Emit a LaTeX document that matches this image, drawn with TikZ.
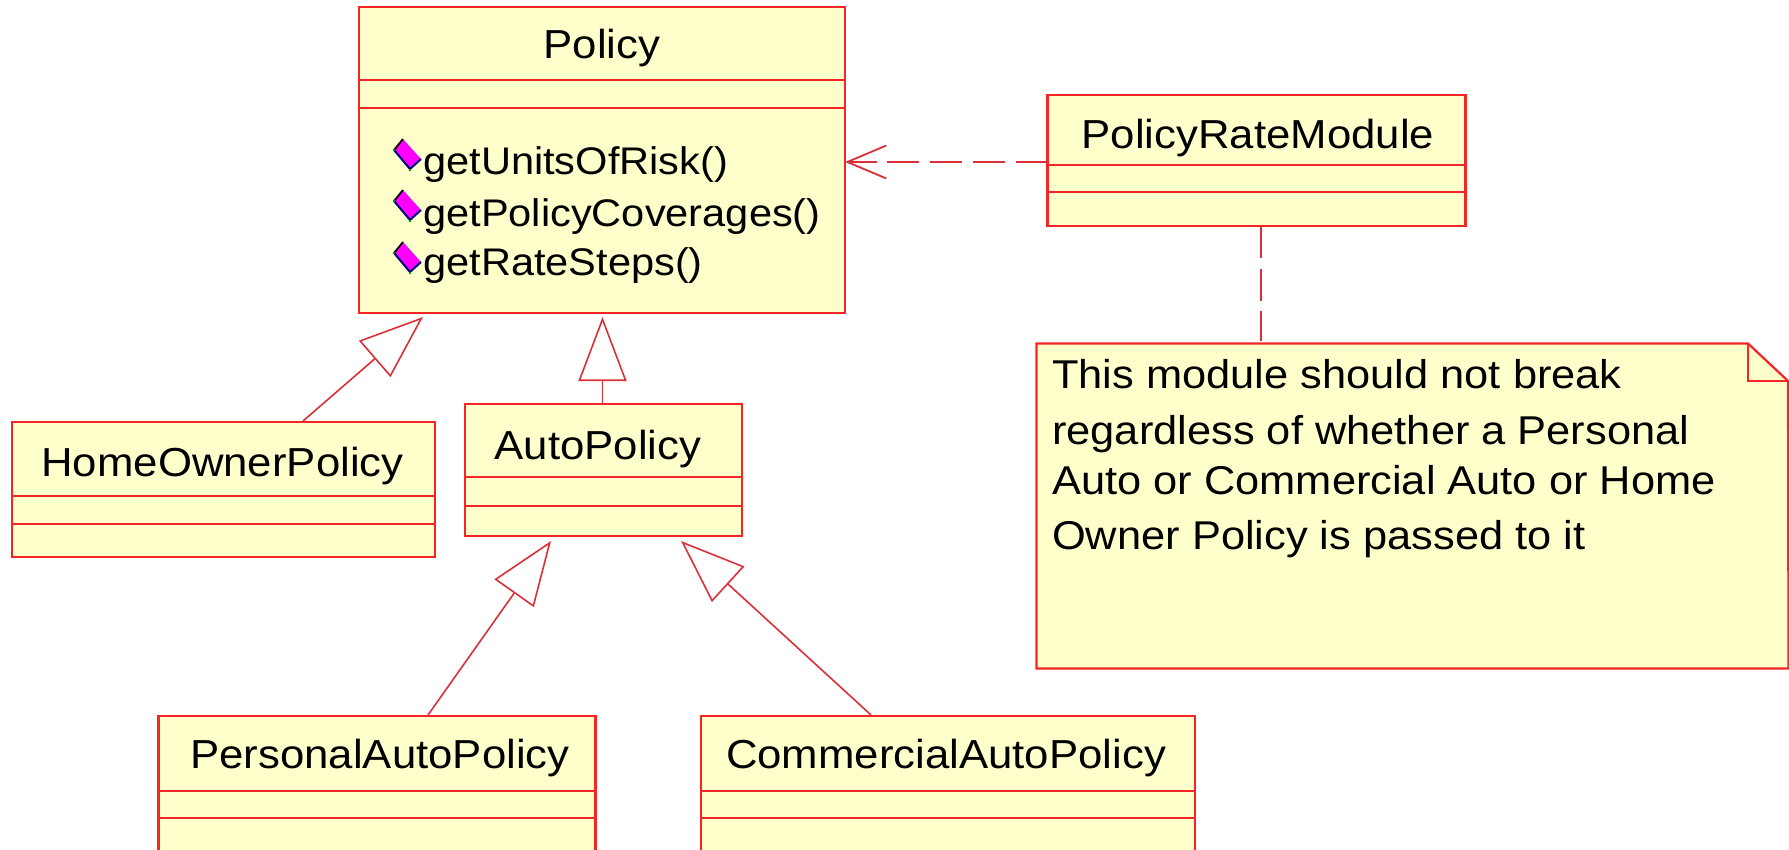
\documentclass[tikz,border=0pt]{standalone}
\usepackage{fontspec}
\setmainfont[FakeStretch=1.08]{Liberation Sans}
\usetikzlibrary{arrows.meta}
\definecolor{notefill}{HTML}{FFFFCC}
\definecolor{boxred}{HTML}{F52525}
\definecolor{linered}{HTML}{DC3038}
\definecolor{iconpink}{HTML}{FF00FF}
\tikzset{
    classbox/.style={draw=boxred, line width=2.2pt, fill=notefill, anchor=north west, inner sep=0pt, outer sep=0pt},
    divider/.style={draw=boxred, line width=2.2pt},
    classname/.style={anchor=base, inner sep=0pt, font=\fontsize{40.5}{48}\selectfont},
    methodname/.style={anchor=base west, inner sep=0pt, font=\fontsize{38.5}{46}\selectfont},
    generalize/.style={draw=linered, line width=1.6pt, -{Triangle[open, length=64pt, width=48pt, fill=white]}},
    depends/.style={draw=linered, line width=1.8pt, dash pattern=on 32pt off 10.67pt}
}
\begin{document}
\begin{tikzpicture}[x=1pt, y=-1pt]
    \useasboundingbox (0, 0) rectangle (1789, 849);
    \clip (0, 0) rectangle (1789, 849);

    % Policy with its three methods
    \node[classbox, minimum width=486pt, minimum height=306pt] (policy) at (359, 7) {};
    \draw[divider] (policy.west |- 0, 80) -- (policy.east |- 0, 80);
    \draw[divider] (policy.west |- 0, 108) -- (policy.east |- 0, 108);
    \node[classname] (policyName) at (602, 58) {Policy};
    \node[methodname] (unitsName) at (423, 174) {getUnitsOfRisk()};
    \node[methodname] (coveragesName) at (423, 226) {getPolicyCoverages()};
    \node[methodname] (stepsName) at (423, 275) {getRateSteps()};

    % Method icons
    \foreach \y in {0, 51, 103} {
        \fill[iconpink] (403, 139 + \y) -- (421, 159 + \y) -- (410, 168 + \y) -- (394, 150 + \y) -- cycle;
        \draw[black, line width=1.8pt] (394, 150 + \y) -- (403, 139 + \y);
        \draw[blue!50!black, line width=2pt] (394, 150 + \y) -- (410, 169 + \y) -- (421, 159 + \y);
        \fill[green!60!black] (410, 170 + \y) circle (1.4pt);
        \fill[green!60!black] (394, 150 + \y) circle (1.4pt);
    }

    % The classes around it
    \node[classbox, minimum width=423pt, minimum height=135pt] (homeOwner) at (12, 422) {};
    \draw[divider] (homeOwner.west |- 0, 496) -- (homeOwner.east |- 0, 496);
    \draw[divider] (homeOwner.west |- 0, 524) -- (homeOwner.east |- 0, 524);
    \node[classname] (homeOwnerName) at (222.5, 476) {HomeOwnerPolicy};

    \node[classbox, minimum width=277pt, minimum height=132pt] (autoPolicy) at (465, 404) {};
    \draw[divider] (autoPolicy.west |- 0, 477) -- (autoPolicy.east |- 0, 477);
    \draw[divider] (autoPolicy.west |- 0, 506) -- (autoPolicy.east |- 0, 506);
    \node[classname] (autoPolicyName) at (598, 459) {AutoPolicy};

    \node[classbox, minimum width=437pt, minimum height=150pt] (personalAuto) at (158.5, 716) {};
    \draw[divider] (personalAuto.west |- 0, 791) -- (personalAuto.east |- 0, 791);
    \draw[divider] (personalAuto.west |- 0, 818) -- (personalAuto.east |- 0, 818);
    \node[classname] (personalAutoName) at (380, 768) {PersonalAutoPolicy};

    \node[classbox, minimum width=494pt, minimum height=150pt] (commercialAuto) at (701, 716) {};
    \draw[divider] (commercialAuto.west |- 0, 791) -- (commercialAuto.east |- 0, 791);
    \draw[divider] (commercialAuto.west |- 0, 818) -- (commercialAuto.east |- 0, 818);
    \node[classname] (commercialAutoName) at (946, 768) {CommercialAutoPolicy};

    \node[classbox, minimum width=418pt, minimum height=131pt] (rateModule) at (1047.5, 95) {};
    \draw[divider] (rateModule.west |- 0, 165) -- (rateModule.east |- 0, 165);
    \draw[divider] (rateModule.west |- 0, 192) -- (rateModule.east |- 0, 192);
    \node[classname] (rateModuleName) at (1258, 148) {PolicyRateModule};

    % Note
    \node[minimum width=752pt, minimum height=325pt, anchor=north west, inner sep=0pt, outer sep=0pt] (note) at (1036.5, 343.5) {};
    \draw[divider, fill=notefill] (note.north west) -- (1748, 343.5) -- (1788, 381) -- (note.south east) -- (note.south west) -- cycle;
    \draw[divider] (1748, 343.5) -- (1748, 381) -- (1788, 381);
    \node[anchor=north west, inner sep=0pt, align=left, font=\fontsize{40.2}{53}\selectfont] (noteText) at (1052, 359)
        {This module should not break\\[3pt]regardless of whether a Personal\\[-3pt]Auto or Commercial Auto or Home\\[2pt]Owner Policy is passed to it};

    % Inheritance
    \coordinate (homeTip) at (423, 317);
    \coordinate (homeFoot) at (303, 421);
    \coordinate (autoTip) at (602.5, 317);
    \coordinate (personalTip) at (551, 541);
    \coordinate (personalFoot) at (428, 715);
    \coordinate (commercialTip) at (681, 541);
    \coordinate (commercialFoot) at (871, 715);
    \draw[generalize] (homeFoot) -- (homeTip);
    \draw[generalize] (autoTip |- autoPolicy.north) -- (autoTip);
    \draw[generalize] (personalFoot) -- (personalTip);
    \draw[generalize] (commercialFoot) -- (commercialTip);

    % Dependency and note link
    \coordinate (policyEnd) at (845, 162);
    \coordinate (noteEnd) at (1261, 341);
    \draw[depends, -{Straight Barb[length=39pt, width=33pt]}] (rateModule.west |- policyEnd) -- (policyEnd);
    \draw[depends] (noteEnd |- rateModule.south) -- (noteEnd);
\end{tikzpicture}
\end{document}
